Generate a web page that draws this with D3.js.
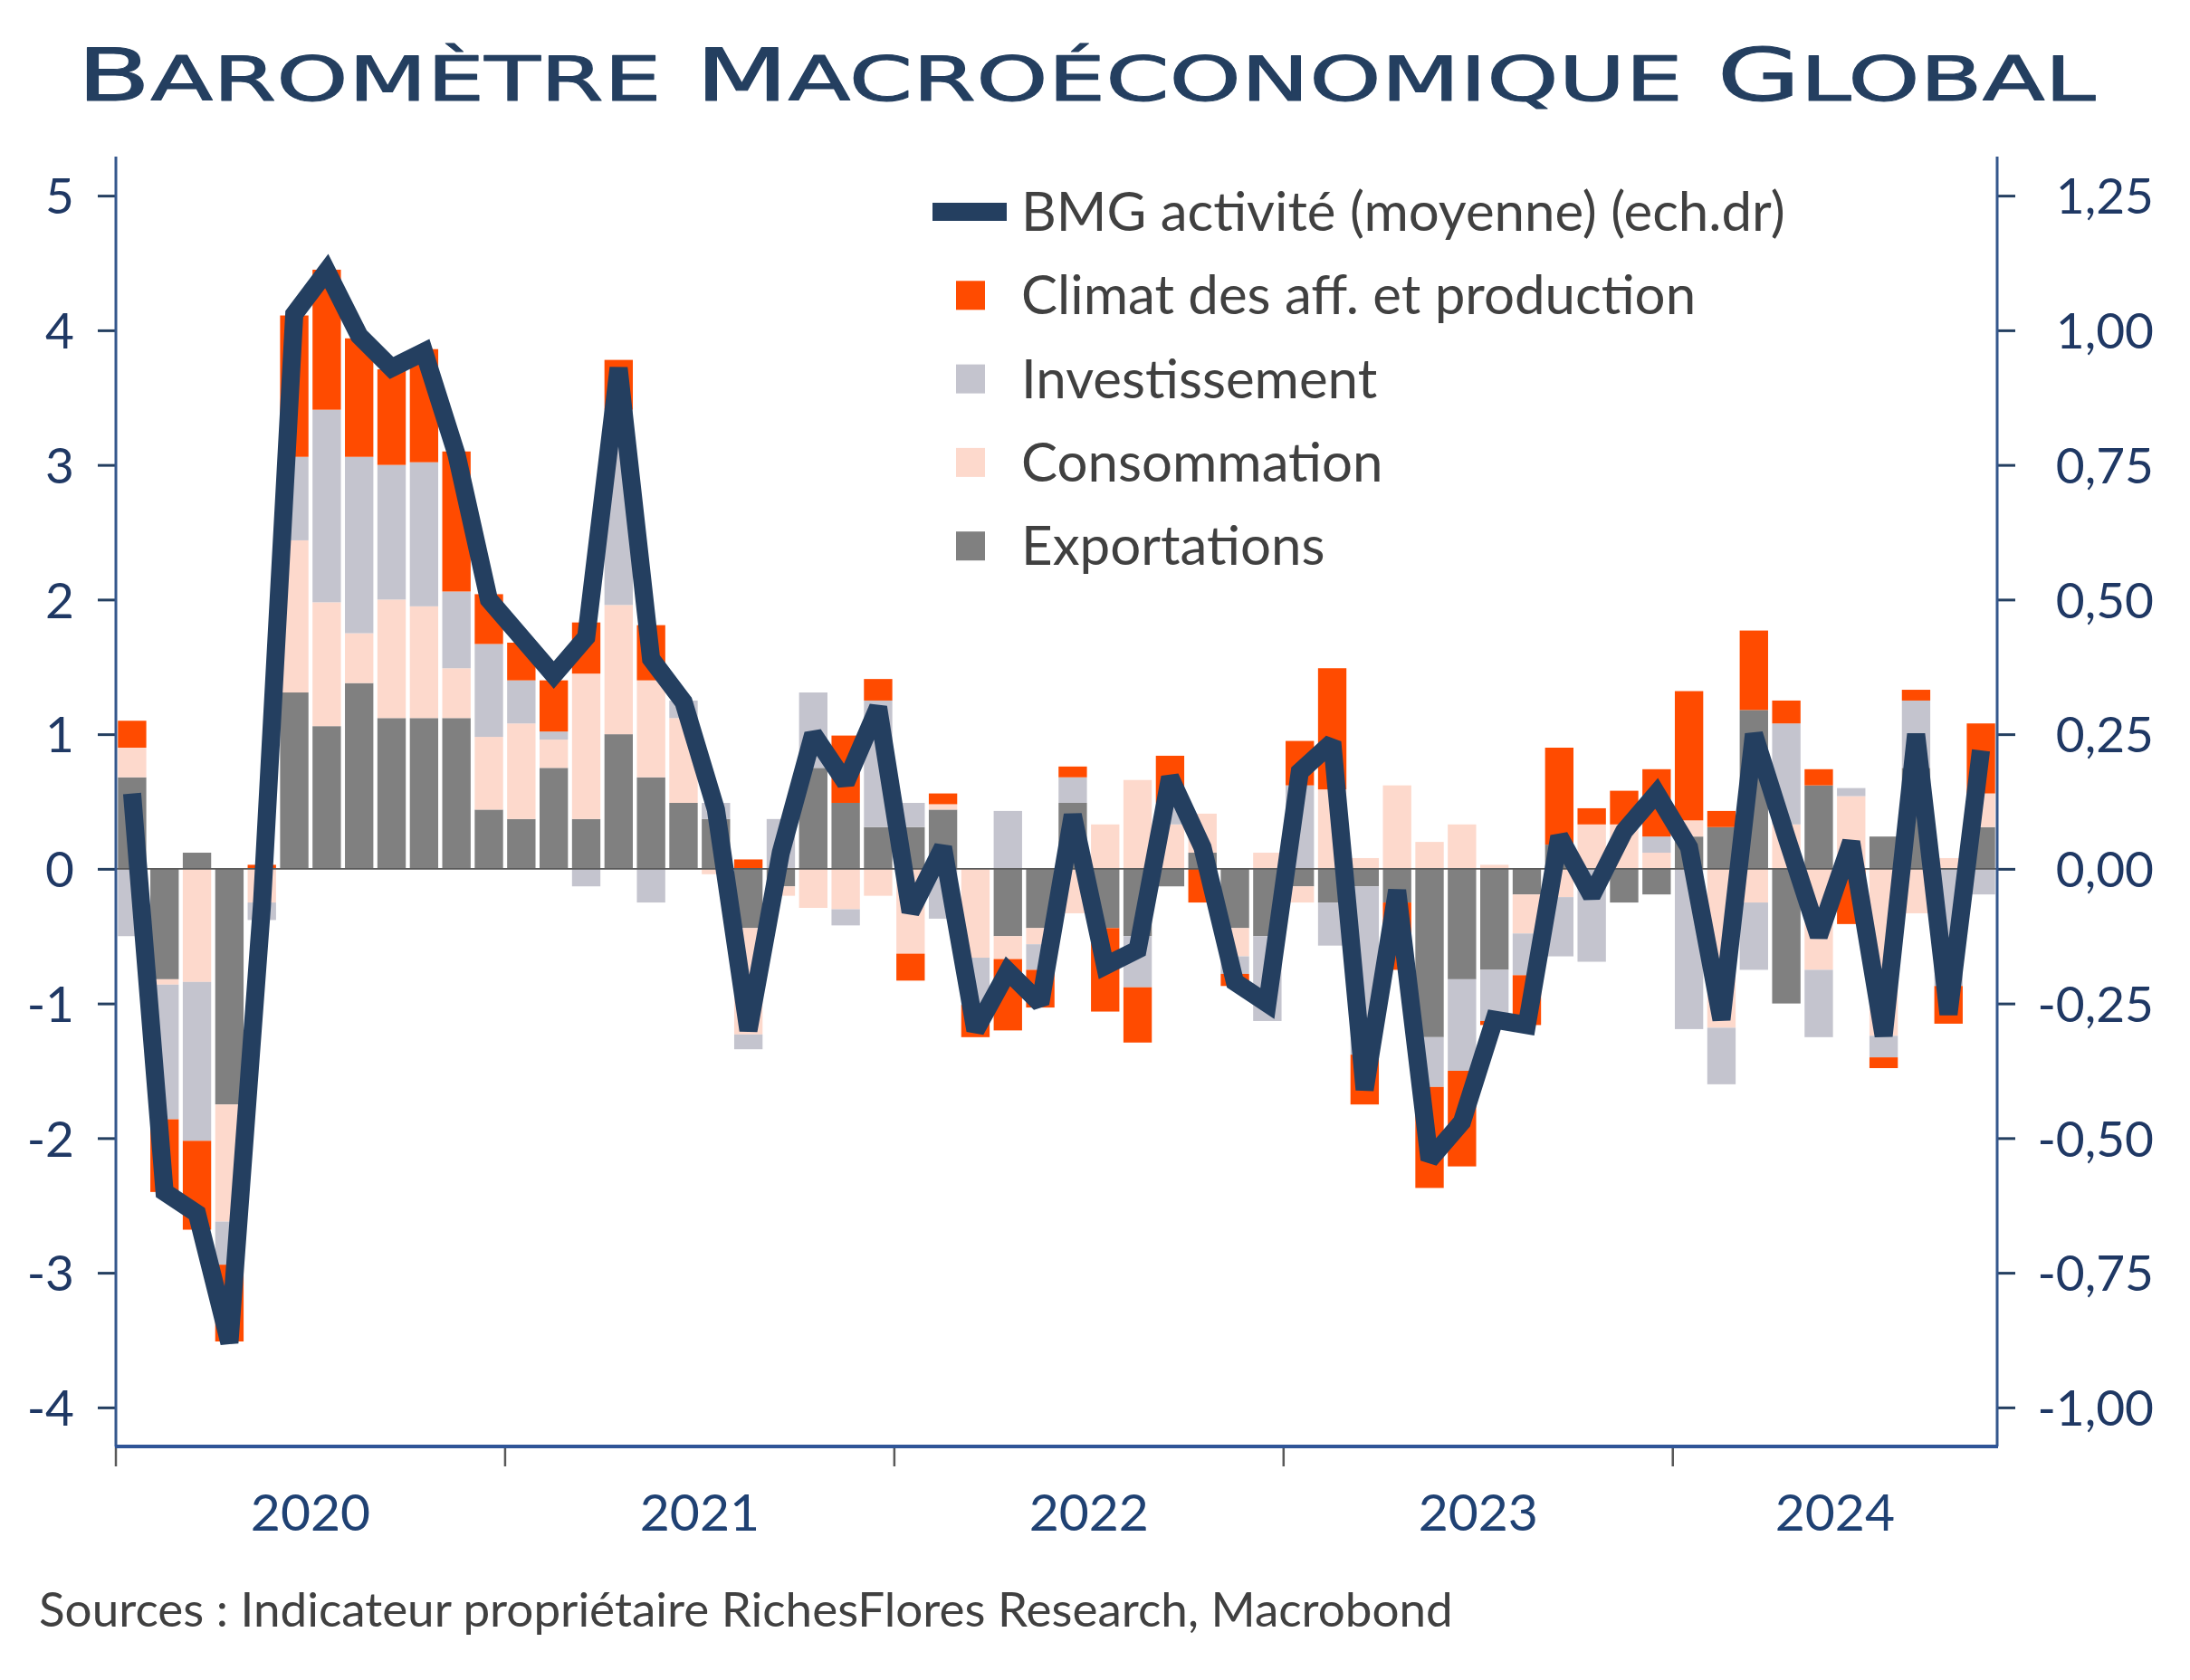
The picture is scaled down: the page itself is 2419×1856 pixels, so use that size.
<!DOCTYPE html>
<html><head><meta charset="utf-8">
<script src="https://cdn.jsdelivr.net/npm/d3@7"></script>
<style>
body{margin:0;background:#fff}
svg{display:block}
</style>
</head><body>
<svg id="chart" width="2419" height="1856"></svg>
<script>
// ---------- DATA ----------
const months = [
 "2020-01","2020-02","2020-03","2020-04","2020-05","2020-06","2020-07","2020-08","2020-09","2020-10","2020-11","2020-12",
 "2021-01","2021-02","2021-03","2021-04","2021-05","2021-06","2021-07","2021-08","2021-09","2021-10","2021-11","2021-12",
 "2022-01","2022-02","2022-03","2022-04","2022-05","2022-06","2022-07","2022-08","2022-09","2022-10","2022-11","2022-12",
 "2023-01","2023-02","2023-03","2023-04","2023-05","2023-06","2023-07","2023-08","2023-09","2023-10","2023-11","2023-12",
 "2024-01","2024-02","2024-03","2024-04","2024-05","2024-06","2024-07","2024-08","2024-09","2024-10"
];
const exportations = [
 0.68,-0.82,0.12,-1.75,0.00,1.31,1.06,1.38,1.12,1.12,1.12,0.44,
 0.37,0.75,0.37,1.00,0.68,0.49,0.37,-0.44,-0.13,0.75,0.49,0.31,
 0.31,0.44,0.00,-0.50,-0.44,0.49,-0.44,-0.50,-0.13,0.12,-0.44,-0.50,
 -0.13,-0.25,-0.13,-0.25,-1.25,-0.82,-0.75,-0.19,0.18,0.00,-0.25,-0.19,
 0.24,0.31,1.18,-1.00,0.62,0.00,0.24,0.75,0.00,0.31
];
const consommation = [
 0.22,-0.04,-0.84,-0.87,-0.25,1.13,0.92,0.37,0.88,0.83,0.37,0.54,
 0.71,0.21,1.08,0.96,0.72,0.63,-0.04,-0.79,-0.07,-0.29,-0.30,-0.20,
 -0.63,0.04,-0.66,-0.17,-0.12,-0.33,0.33,0.66,0.33,0.29,-0.21,0.12,
 -0.12,0.59,0.08,0.62,0.20,0.33,0.03,-0.29,-0.21,0.33,0.33,0.12,
 0.12,-1.18,-0.25,0.33,-0.75,0.54,-1.24,-0.33,0.08,0.25
];
const investissement = [
 -0.50,-1.00,-1.18,-0.32,-0.13,0.62,1.43,1.31,1.00,1.07,0.57,0.69,
 0.32,0.06,-0.13,1.45,-0.25,0.13,0.12,-0.11,0.37,0.56,-0.12,0.94,
 0.18,-0.37,-0.35,0.43,-0.19,0.19,0.00,-0.38,0.16,0.00,-0.13,-0.63,
 0.62,-0.32,-1.25,0.00,-0.37,-0.68,-0.38,-0.31,-0.44,-0.69,0.00,0.12,
 -1.19,-0.42,-0.50,0.75,-0.50,0.06,-0.16,0.50,-0.87,-0.19
];
const climat = [
 0.20,-0.54,-0.66,-0.57,0.03,1.05,1.04,0.88,0.71,0.84,1.04,0.37,
 0.28,0.38,0.38,0.37,0.41,0.00,0.00,0.07,0.00,0.00,0.50,0.16,
 -0.20,0.08,-0.24,-0.53,-0.28,0.08,-0.62,-0.41,0.35,-0.25,-0.09,0.00,
 0.33,0.90,-0.37,-0.50,-0.75,-0.71,-0.03,-0.37,0.72,0.12,0.25,0.50,
 0.96,0.12,0.59,0.17,0.12,-0.41,-0.08,0.08,-0.28,0.52
];
const bmg = [
 0.14,-0.60,-0.64,-0.88,-0.07,1.03,1.11,0.99,0.93,0.96,0.77,0.50,
 0.43,0.36,0.43,0.93,0.39,0.31,0.11,-0.30,0.03,0.25,0.16,0.30,
 -0.08,0.04,-0.30,-0.19,-0.25,0.10,-0.18,-0.15,0.17,0.04,-0.21,-0.25,
 0.18,0.235,-0.41,-0.04,-0.54,-0.47,-0.28,-0.29,0.06,-0.05,0.07,0.14,
 0.04,-0.28,0.25,0.06,-0.125,0.05,-0.31,0.25,-0.27,0.22
];
const leftTicks = [-4,-3,-2,-1,0,1,2,3,4,5];
const rightTicks = [-1.00,-0.75,-0.50,-0.25,0.00,0.25,0.50,0.75,1.00,1.25];
const yearLabels = ["2020","2021","2022","2023","2024"];
const seriesKeys = ["Exportations","Consommation","Investissement","Climat des aff. et production"];
const lineName = "BMG activité (moyenne) (ech.dr)";
const legendOrder = ["Climat des aff. et production","Investissement","Consommation","Exportations"];
const colors = {
  "Climat des aff. et production":"#FF4B00",
  "Investissement":"#C4C4CE",
  "Consommation":"#FDD9CC",
  "Exportations":"#808080"
};
const titleText = "Baromètre Macroéconomique Global";
const sourceText = "Sources : Indicateur propriétaire RichesFlores Research, Macrobond";

// ---------- LAYOUT ----------
const plot = {left:128, right:2206, top:173, bottom:1598};
const navy = "#243F60";
const axisBlue = "#34578C";
const font = "Lato, 'Open Sans', sans-serif";

const svg = d3.select("#chart");
svg.append("rect").attr("width",2419).attr("height",1856).attr("fill","#fff");

const table = months.map((m,i)=>({
  month:m,
  "Exportations":exportations[i],
  "Consommation":consommation[i],
  "Investissement":investissement[i],
  "Climat des aff. et production":climat[i]
}));

const x = d3.scaleBand().domain(months).range([plot.left, plot.right])
  .paddingInner(0.125).paddingOuter(0.0625);
const yL = d3.scaleLinear().domain([-4.29, 5.29]).range([plot.bottom, plot.top]);
const yR = d3.scaleLinear().domain([-4.29/4, 5.29/4]).range([plot.bottom, plot.top]);

// ---------- BARS ----------
const stacked = d3.stack().keys(seriesKeys).offset(d3.stackOffsetDiverging)(table);
svg.append("g").selectAll("g").data(stacked).join("g")
  .attr("fill", d => colors[d.key])
  .selectAll("rect").data(d => d).join("rect")
  .attr("x", d => x(d.data.month))
  .attr("width", x.bandwidth())
  .attr("y", d => yL(Math.max(d[0], d[1])))
  .attr("height", d => Math.abs(yL(d[0]) - yL(d[1])));

// zero line
svg.append("line")
  .attr("x1", plot.left).attr("x2", plot.right)
  .attr("y1", yL(0)).attr("y2", yL(0))
  .attr("stroke", "#5a5a5a").attr("stroke-width", 1.6);

// ---------- LINE ----------
const line = d3.line()
  .x((d,i) => x(months[i]) + x.bandwidth()/2)
  .y(d => yR(d));
svg.append("path").datum(bmg)
  .attr("d", line)
  .attr("fill","none")
  .attr("stroke", navy)
  .attr("stroke-width", 20)
  .attr("stroke-linejoin","miter")
  .attr("stroke-miterlimit", 2);

// ---------- AXES ----------
const gL = svg.append("g").attr("transform", `translate(${plot.left},0)`)
  .call(d3.axisLeft(yL).tickValues(leftTicks).tickSize(20).tickPadding(26)
        .tickFormat(d => String(d)));
gL.select(".domain").remove();
gL.selectAll(".tick line").attr("stroke", navy).attr("stroke-width", 3);
gL.selectAll(".tick text").attr("fill", "#1F3864").attr("font-family", font)
  .attr("font-size", 55).attr("dy","0.36em");

const gR = svg.append("g").attr("transform", `translate(${plot.right},0)`)
  .call(d3.axisRight(yR).tickValues(rightTicks).tickSize(20)
        .tickFormat(d => d3.format(".2f")(d).replace(".", ",").replace("−","-")));
gR.select(".domain").remove();
gR.selectAll(".tick line").attr("stroke", navy).attr("stroke-width", 3);
gR.selectAll(".tick text").attr("fill", "#1F3864").attr("font-family", font)
  .attr("font-size", 55).attr("text-anchor","end").attr("x", 173).attr("dy","0.36em");

// axis lines
svg.append("line").attr("x1",plot.left).attr("x2",plot.left).attr("y1",plot.top).attr("y2",plot.bottom)
  .attr("stroke",axisBlue).attr("stroke-width",3);
svg.append("line").attr("x1",plot.right).attr("x2",plot.right).attr("y1",plot.top).attr("y2",plot.bottom)
  .attr("stroke",axisBlue).attr("stroke-width",3);

// x axis: year boundaries
const step = x.step();
const startX = m => x(m) - x.paddingOuter()*step;
const yearStartIdx = yearLabels.map(y => months.indexOf(y + "-01"));
const bounds = yearStartIdx.map(i => startX(months[i]));
svg.append("g").selectAll("line").data(bounds).join("line")
  .attr("x1", d=>d).attr("x2", d=>d)
  .attr("y1", plot.bottom).attr("y2", plot.bottom + 22)
  .attr("stroke", "#595959").attr("stroke-width", 2.5);
svg.append("line").attr("x1",plot.left-1).attr("x2",plot.right+1).attr("y1",plot.bottom).attr("y2",plot.bottom)
  .attr("stroke","#2F5597").attr("stroke-width",4);
svg.append("g").selectAll("text").data(yearLabels).join("text")
  .attr("x", (d,i) => ((bounds[i]) + (i+1 < bounds.length ? bounds[i+1] : plot.right))/2)
  .attr("y", 1691)
  .attr("text-anchor","middle")
  .attr("font-family", font).attr("font-size", 57)
  .attr("fill", "#1F4173")
  .text(d => d);

// ---------- TITLE ----------
const title = svg.append("text").attr("font-family","'DejaVu Sans', sans-serif")
  .attr("font-weight","normal").attr("fill","#243F60")
  .attr("stroke","#243F60").attr("stroke-width",1.0).attr("stroke-linejoin","round");
titleText.split(" ").forEach((w,i) => {
  title.append("tspan").attr("font-size", 80).text((i>0?" ":"") + w[0].toUpperCase());
  title.append("tspan").attr("font-size", 68).text(w.slice(1).toUpperCase());
});
const tw = title.node().getComputedTextLength();
const targetW = 2315 - 85;
title.attr("transform", `translate(85,111) scale(${targetW/tw},1)`);

// ---------- LEGEND ----------
const legY0 = 234, legDy = 92.3;
const leg = svg.append("g").attr("font-family", font).attr("font-size", 60).attr("fill","#404040");
leg.append("line").attr("x1",1030).attr("x2",1112).attr("y1",legY0).attr("y2",legY0)
  .attr("stroke",navy).attr("stroke-width",20);
leg.append("text").attr("x",1128).attr("y",legY0+21).text(lineName);
legendOrder.forEach((k,i) => {
  const cy = legY0 + legDy*(i+1);
  leg.append("rect").attr("x",1056).attr("y",cy-16).attr("width",32).attr("height",32).attr("fill",colors[k]);
  leg.append("text").attr("x",1128).attr("y",cy+21).text(k);
});

// ---------- SOURCE ----------
svg.append("text").attr("x",43).attr("y",1797)
  .attr("font-family", font).attr("font-size", 53).attr("fill","#404040")
  .text(sourceText);
</script>
</body></html>
